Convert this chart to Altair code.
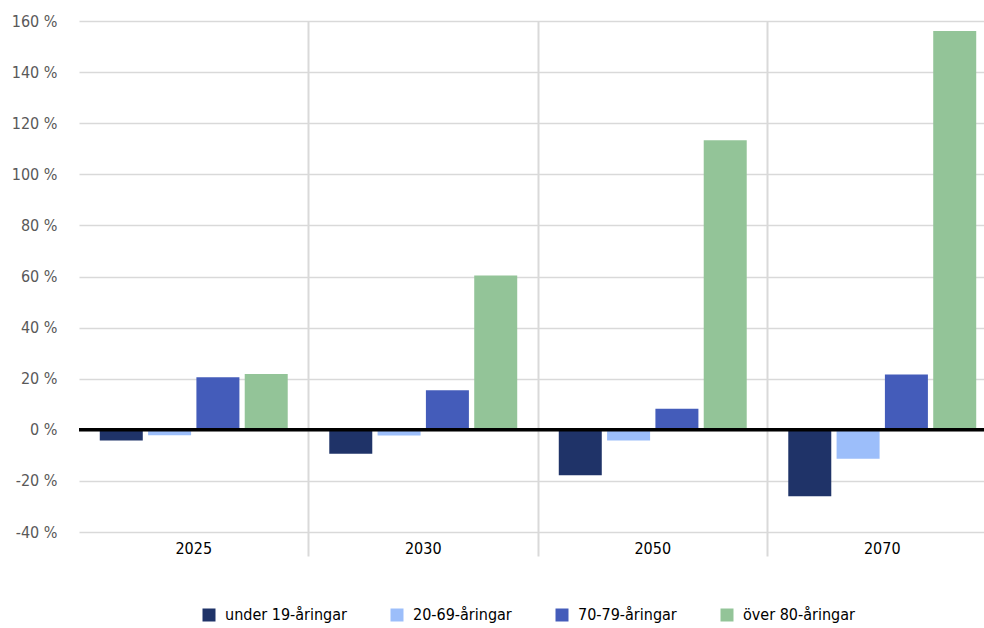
import altair as alt
import pandas as pd

# Change in population by age group, relative to today (per cent)
years = ["2025", "2030", "2050", "2070"]
groups = ["under 19-åringar", "20-69-åringar", "70-79-åringar", "över 80-åringar"]
under_19 = [-4.2, -9.4, -17.8, -26.0]
age_20_69 = [-2.1, -2.2, -4.2, -11.3]
age_70_79 = [20.6, 15.5, 8.2, 21.6]
over_80 = [21.8, 60.4, 113.3, 156.1]
colors = ["#1F3368", "#9CBEFA", "#445CBA", "#93C498"]
y_ticks = [-40, -20, 0, 20, 40, 60, 80, 100, 120, 140, 160]

series = [under_19, age_20_69, age_70_79, over_80]
rows = []
for g, vals in zip(groups, series):
    for yr, v in zip(years, vals):
        rows.append({"year": yr, "group": g, "change": v})
df = pd.DataFrame(rows)

FONT = "DejaVu Sans Condensed, Liberation Sans Narrow, sans-serif"
FS = 16

y_axis = alt.Axis(
    title=None,
    values=y_ticks,
    labelExpr="datum.value + ' %'",
    domain=False,
    ticks=False,
    grid=True,
    gridColor="#d9d9d9",
    gridWidth=1.5,
    labelPadding=22,
    labelFontSize=FS,
    labelColor="#595959",
)
y_scale = alt.Scale(domain=[-40, 160], nice=False)

bars = alt.Chart(df).mark_bar().encode(
    x=alt.X(
        "year:N",
        sort=years,
        scale=alt.Scale(range=[0, 918], paddingInner=0, paddingOuter=0),
        axis=alt.Axis(
            title=None,
            domain=False,
            grid=True,
            gridColor={"condition": {"test": "datum.value === '2025'", "value": "transparent"},
                       "value": "#d9d9d9"},
            gridWidth=2,
            ticks=True,
            tickColor={"condition": {"test": "datum.value === '2025'", "value": "transparent"},
                       "value": "#d9d9d9"},
            tickWidth=2,
            tickSize=24,
            bandPosition=0,
            labelAngle=0,
            labelPadding=-16,
            labelFontSize=FS,
            labelColor="#000000",
        ),
    ),
    xOffset=alt.XOffset(
        "group:N",
        sort=groups,
        scale=alt.Scale(paddingInner=0.11, paddingOuter=0.43),
    ),
    y=alt.Y("change:Q", scale=y_scale, axis=y_axis),
    color=alt.Color(
        "group:N",
        sort=groups,
        scale=alt.Scale(domain=groups, range=colors),
        legend=alt.Legend(
            title=None,
            orient="none",
            direction="horizontal",
            legendX=122,
            legendY=586,
            symbolType="square",
            symbolSize=169,
            symbolStrokeWidth=0,
            symbolOpacity=1,
            labelFontSize=FS,
            labelColor="#000000",
            labelOffset=8,
            columnPadding=42,
        ),
    ),
)

zero_line = alt.Chart().mark_rule(color="#000000", strokeWidth=3.5).encode(
    y=alt.Y(datum=0, scale=y_scale, axis=y_axis)
)

chart = (
    alt.layer(bars, zero_line)
    .properties(
        width=905,
        height=511,
        autosize=alt.AutoSizeParams(type="none"),
        padding={"left": 79, "top": 21, "right": 0, "bottom": 96},
    )
    .configure(font=FONT)
    .configure_view(stroke=None)
)

chart.save("out.html", embed_options={"renderer": "svg", "actions": False})
